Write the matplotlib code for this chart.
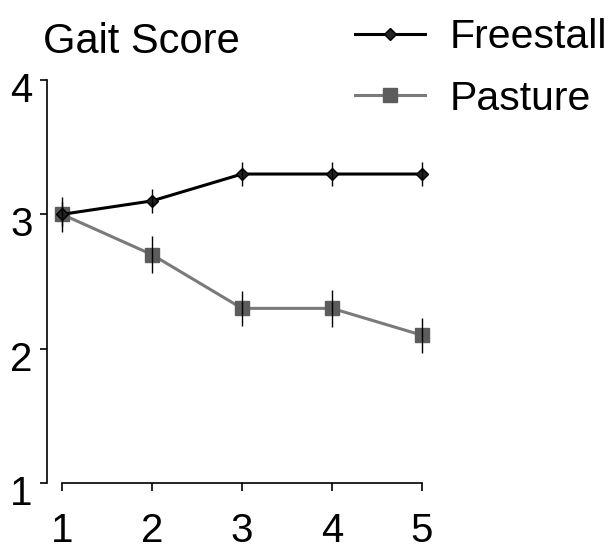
import matplotlib
matplotlib.use("Agg")
import matplotlib.pyplot as plt
from matplotlib.lines import Line2D
from matplotlib.transforms import ScaledTranslation

weeks = [1, 2, 3, 4, 5]
freestall = [3.0, 3.1, 3.3, 3.3, 3.3]
freestall_err = [0.09, 0.09, 0.09, 0.09, 0.09]
pasture = [3.0, 2.7, 2.3, 2.3, 2.1]
pasture_err = [0.13, 0.14, 0.13, 0.14, 0.13]
x_ticks = [1, 2, 3, 4, 5]
y_ticks = [1, 2, 3, 4]
title = "Gait Score"
labels = ["Freestall", "Pasture"]

plt.rcParams['font.family'] = ['Liberation Sans', 'DejaVu Sans']

fig = plt.figure(figsize=(6.14, 5.5), dpi=100)
ax = fig.add_axes([62/614, 1-483/550, 360/614, 403/550])

ax.errorbar(weeks, pasture, yerr=pasture_err, fmt='none', ecolor='black',
            elinewidth=1.0, capsize=0, zorder=3, clip_on=False)
ax.plot(weeks, pasture, color='#7a7a7a', lw=2.2, marker='s', ms=10.5,
        mfc='#5c5c5c', mec='#5c5c5c', zorder=2, clip_on=False)
ax.errorbar(weeks, freestall, yerr=freestall_err, fmt='none', ecolor='black',
            elinewidth=1.0, capsize=0, zorder=5, clip_on=False)
ax.plot(weeks, freestall, color='black', lw=2.2, marker='D', ms=6.5,
        mfc='#222222', mec='black', zorder=4, clip_on=False)

ax.set_xlim(1, 5)
ax.set_ylim(1, 4)
ax.set_xticks(x_ticks)
ax.set_yticks(y_ticks)
ax.set_xticklabels([str(v) for v in x_ticks])
ax.set_yticklabels([str(v) for v in y_ticks])

for s in ['top', 'right']:
    ax.spines[s].set_visible(False)
ax.spines['left'].set_position(('outward', 11))
ax.spines['left'].set_bounds(1, 4)
ax.spines['bottom'].set_bounds(1, 5)
for s in ['left', 'bottom']:
    ax.spines[s].set_linewidth(1.2)

ax.tick_params(axis='y', direction='out', length=5, width=1.2, pad=5, labelsize=29)
ax.tick_params(axis='x', direction='out', length=6, width=1.2, pad=15, labelsize=29)

off = ScaledTranslation(0, -0.07, fig.dpi_scale_trans)
for lbl in ax.get_yticklabels():
    lbl.set_transform(lbl.get_transform() + off)

fig.text(43/614, 1-53/550, title, fontsize=30, va='baseline', ha='left')

handles = [
    Line2D([], [], color='black', lw=2.2, marker='D', ms=6.5, mfc='#222222', mec='black'),
    Line2D([], [], color='#7a7a7a', lw=2.2, marker='s', ms=10.5, mfc='#5c5c5c', mec='#5c5c5c'),
]
fig.legend(handles, labels, loc='upper left', bbox_to_anchor=(355/614, 1-18/550),
           frameon=False, fontsize=29.5, handlelength=1.71, handletextpad=0.61,
           labelspacing=0.58, borderpad=0, borderaxespad=0)

fig.savefig("out.png", dpi=100, facecolor='white')
